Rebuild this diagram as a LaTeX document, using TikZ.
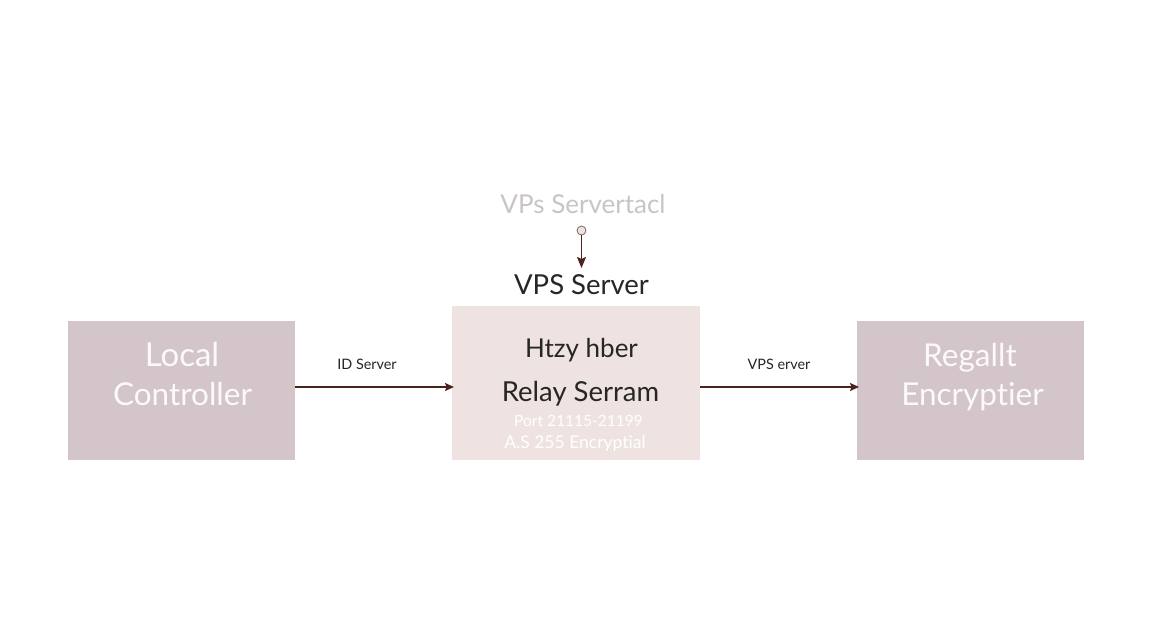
\documentclass[tikz,border=0pt]{standalone}
\usepackage{fontspec}
\setmainfont{Lato}[Ligatures=CommonOff]
\usetikzlibrary{arrows.meta}
\definecolor{sidebox}{HTML}{D3C5CA}
\definecolor{midbox}{HTML}{EEE3E0}
\definecolor{arrowc}{HTML}{4A231C}
\definecolor{paletxt}{HTML}{C9C4C8}
\definecolor{softwhite}{HTML}{FCFAF9}
\tikzset{
  sidenode/.style={fill=sidebox,draw=none,inner sep=0pt,anchor=north west,minimum width=227pt,minimum height=139pt},
  midnode/.style={fill=midbox,draw=none,inner sep=0pt,anchor=north west,minimum width=248pt,minimum height=154pt},
  big/.style={text=softwhite,font=\fontsize{31.5}{31.5}\selectfont,inner sep=0pt,anchor=base},
  dark/.style={text=black!85,font=\fontsize{26}{26}\selectfont,inner sep=0pt,anchor=base},
  small/.style={text=white,inner sep=0pt,anchor=base},
  edgelabel/.style={text=black!85,font=\fontsize{14.4}{14.4}\selectfont,inner sep=0pt,anchor=base},
  flow/.style={draw=arrowc,line width=1.5pt,-{Stealth[length=9pt,width=8pt,inset=1.5pt]}},
  flowdown/.style={draw=arrowc,line width=1.6pt,-{Stealth[length=11pt,width=9pt,inset=2pt]}},
}
\begin{document}
\begin{tikzpicture}[x=1pt,y=-1pt]
\useasboundingbox (0,0) rectangle (1152,640);
\fill[white] (0,0) rectangle (1152,640);
\node[sidenode] (local) at (68,321) {};
\node[midnode] (relay) at (452,306) {};
\node[sidenode] (regallt) at (857,321) {};
\node[big,font=\fontsize{33}{33}\selectfont] (t1) at (182,366) {Local};
\node[big] (t2) at (182.5,405) {Controller};
\node[big] (t3) at (970,366) {Regallt};
\node[big] (t4) at (972.5,405) {Encryptier};
\node[dark,font=\fontsize{27.5}{27.5}\selectfont] (vps) at (581.5,294) {VPS Server};
\node[dark,text=paletxt] (top) at (583,213) {VPs Servertacl};
\node[dark] (h1) at (581.5,357) {Htzy hber};
\node[dark,font=\fontsize{27.5}{27.5}\selectfont] (h2) at (580.5,401) {Relay Serram};
\node[small,font=\fontsize{15.5}{15.5}\selectfont] (p1) at (578.5,426) {Port 21115-21199};
\node[small,font=\fontsize{17.5}{17.5}\selectfont] (p2) at (575,448) {A.S 255 Encryptial};
\node[edgelabel] (l1) at (367,369) {ID Server};
\node[edgelabel] (l2) at (779,369) {VPS erver};
\node[circle,draw=arrowc!70!white,fill=midbox,line width=0.8pt,minimum size=9pt,inner sep=0pt] (dot) at (581.5,230.5) {};
\coordinate (vpsin) at (581.5,268);
\coordinate (a1) at (295,387);
\coordinate (a2) at (454,387);
\coordinate (a3) at (700,387);
\coordinate (a4) at (859,387);
\draw[flowdown] (dot) -- (vpsin);
\draw[flow] (a1) -- (a2);
\draw[flow] (a3) -- (a4);
\end{tikzpicture}
\end{document}
